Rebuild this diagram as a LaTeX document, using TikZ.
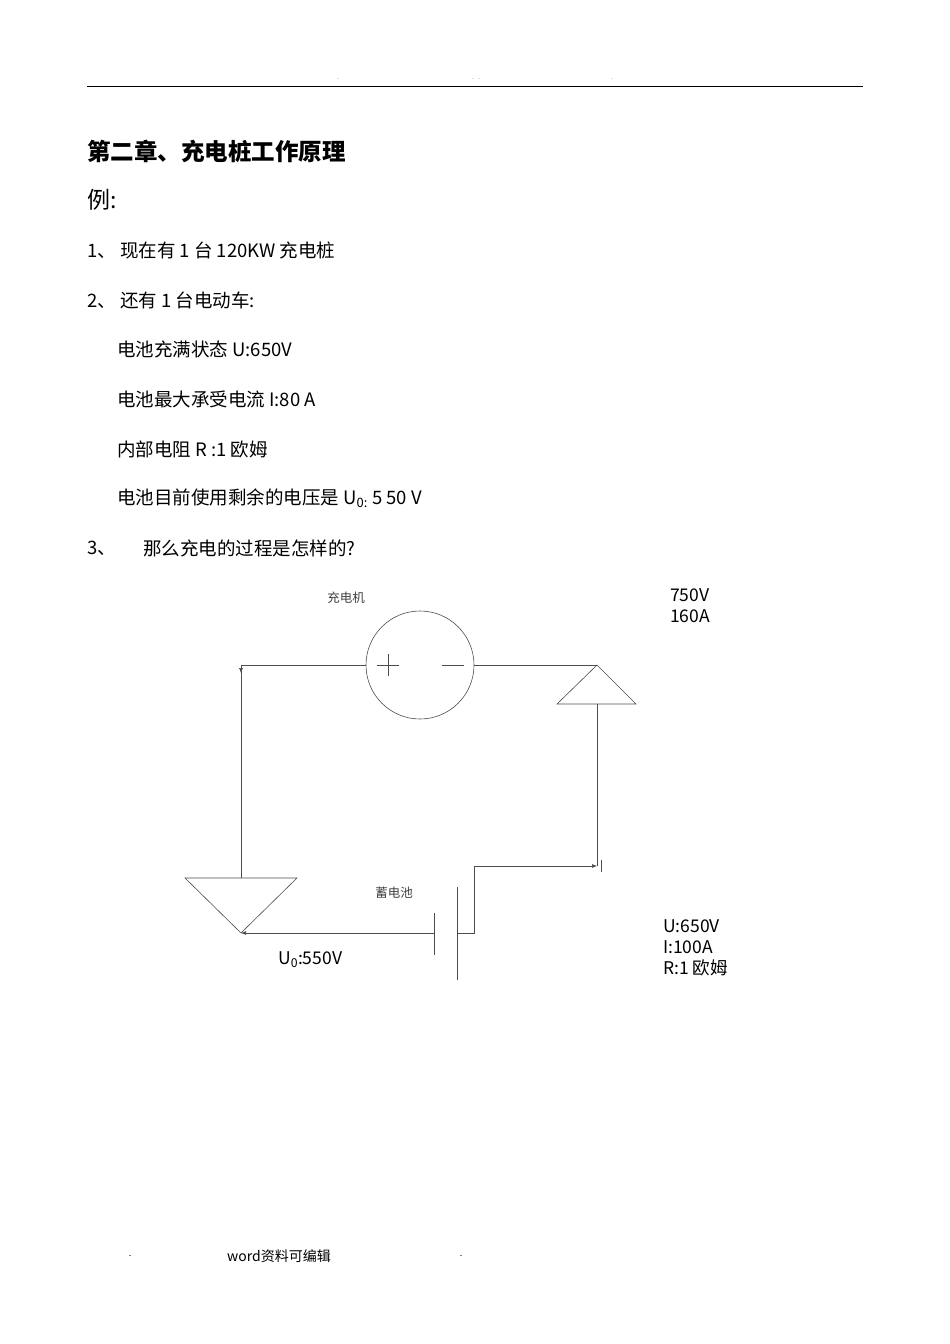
\documentclass[tikz,border=0pt]{standalone}
\usepackage{fontspec}
\setmainfont{Noto Sans CJK SC}
\usetikzlibrary{arrows.meta}
\begin{document}
\begin{tikzpicture}[x=1pt,y=-1pt,
  wire/.style={draw=black!70,line width=0.6pt},
  tip/.style={-{Latex[length=5pt,width=4pt]}},
  body/.style={anchor=west,inner sep=0pt,font=\fontsize{18.5}{20}\selectfont},
  lbl/.style={anchor=west,inner sep=0pt,font=\fontsize{17.5}{21}\selectfont},
  small/.style={inner sep=0pt,font=\fontsize{12.5}{14}\selectfont,text=black!75}]
\useasboundingbox (0,0) rectangle (950,1344);
% header
\draw[line width=0.6pt] (87,86) -- (863,86);
\foreach \x in {338,473,479,612} \node[inner sep=0pt,font=\tiny] at (\x,79) {.};
\node[body,font=\fontsize{23.5}{26}\selectfont\bfseries] (t) at (87,151) {第二章、充电桩工作原理};
\node[body,font=\fontsize{23}{26}\selectfont] (e) at (87,200) {例:};
\node[body] (l1) at (87,250) {1、 现在有 1 台 120KW 充电桩};
\node[body] (l2) at (87,300) {2、 还有 1 台电动车:};
\node[body] (l3) at (117,349) {电池充满状态 U:650V};
\node[body] (l4) at (117,399) {电池最大承受电流 I:80 A};
\node[body] (l5) at (117,449) {内部电阻 R :1 欧姆};
\node[body] (l6) at (117,498) {电池目前使用剩余的电压是 U\textsubscript{0:} 5 50 V};
\node[body] (l7a) at (87,548) {3、};
\node[body] (l7) at (143,548) {那么充电的过程是怎样的?};
% circuit
\node[wire,circle,minimum size=108pt,inner sep=0pt] (g) at (420,665) {};
\draw[wire] (377,665) -- (399,665) (388,654) -- (388,676) (442,665) -- (464,665);
\coordinate (a) at (241,665);
\coordinate (tl) at (185,878); \coordinate (tr) at (297,878); \coordinate (tb) at (241,933);
\coordinate (rb1) at (557,704); \coordinate (rb2) at (636,704); \coordinate (rt) at (597,665);
\coordinate (lp) at (434,933); \coordinate (rp) at (457,933);
\draw[wire] (g.west) -- (a);
\draw[wire,tip] (a) -- ++(0,8);
\draw[wire] (a) -- (241,878);
\draw[wire] (tl) -- (tr) -- (tb) -- cycle;
\draw[wire,tip] (lp) -- (tb);
\draw[wire] (434,913) -- (434,955);
\draw[wire] (457,887) -- (457,980);
\draw[wire,tip] (rp) -- (474,933) -- (474,866) -- (597,866);
\draw[wire] (601,860) -- (601,872);
\draw[wire] (597,866) -- (597,704);
\draw[wire] (rb1) -- (rb2) -- (rt) -- cycle;
\draw[wire] (g.east) -- (rt);
\node[small] (c1) at (346,598) {充电机};
\node[small] (c2) at (394,893) {蓄电池};
\node[lbl,align=left] (v1) at (670,606) {750V\\160A};
\node[lbl,align=left] (v2) at (663,948) {U:650V\\I:100A\\R:1 欧姆};
\node[lbl] (u0) at (278,960) {U\textsubscript{0}:550V};
% footer
\node[inner sep=0pt,font=\small] (f1) at (130,1256) {.};
\node[inner sep=0pt,anchor=west,font=\fontsize{14}{16}\selectfont] (f2) at (227,1256) {word资料可编辑};
\node[inner sep=0pt,font=\small] (f3) at (461,1256) {.};
\end{tikzpicture}
\end{document}
